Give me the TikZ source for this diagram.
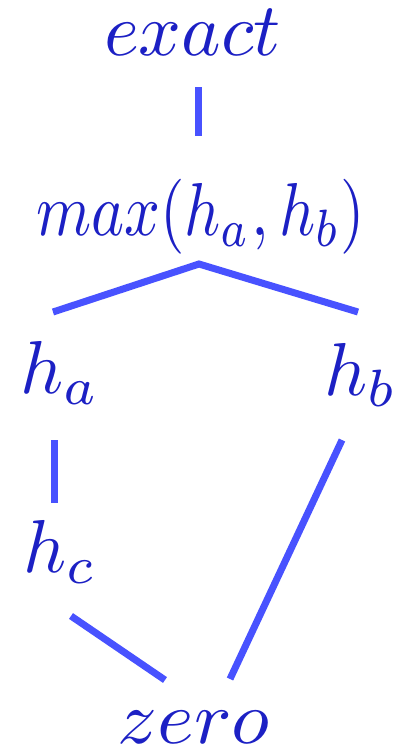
\documentclass[tikz,border=0pt]{standalone}
\usepackage{graphicx}
\definecolor{txtblue}{RGB}{28,32,196}
\definecolor{lnblue}{RGB}{72,82,255}
\newcommand{\mathlbl}[2][7.5]{\scalebox{#1}[7.5]{\normalsize$#2$}}
\tikzset{
  lbl/.style={inner sep=0pt, anchor=base, text=txtblue},
  edge/.style={draw=lnblue, line width=7pt}
}
\begin{document}
\begin{tikzpicture}[x=1pt,y=-1pt]
\useasboundingbox (0,0) rectangle (402,748);
\node[lbl] (exact) at (192.5,55) {\mathlbl{exact}};
\node[lbl] (max) at (200.5,235) {\mathlbl[6.28]{max(h_a,h_b)}};
\node[lbl] (ha) at (60,393) {\mathlbl{h_a}};
\node[lbl] (hb) at (361,395) {\mathlbl{h_b}};
\node[lbl] (hc) at (60.5,572) {\mathlbl{h_c}};
\node[lbl] (zero) at (194,743) {\mathlbl[7.85]{zero}};
\coordinate (e1) at (198,87);
\coordinate (e2) at (198,136);
\coordinate (m0) at (199,264);
\coordinate (ml) at (53,312);
\coordinate (mr) at (358,312);
\coordinate (a1) at (54,440);
\coordinate (a2) at (54,503);
\coordinate (b1) at (342,440);
\coordinate (b2) at (230,679);
\coordinate (c1) at (71,616);
\coordinate (c2) at (165,680);
\draw[edge] (e1) -- (e2);
\draw[edge] (ml) -- (m0) -- (mr);
\draw[edge] (a1) -- (a2);
\draw[edge] (b1) -- (b2);
\draw[edge] (c1) -- (c2);
\end{tikzpicture}
\end{document}
